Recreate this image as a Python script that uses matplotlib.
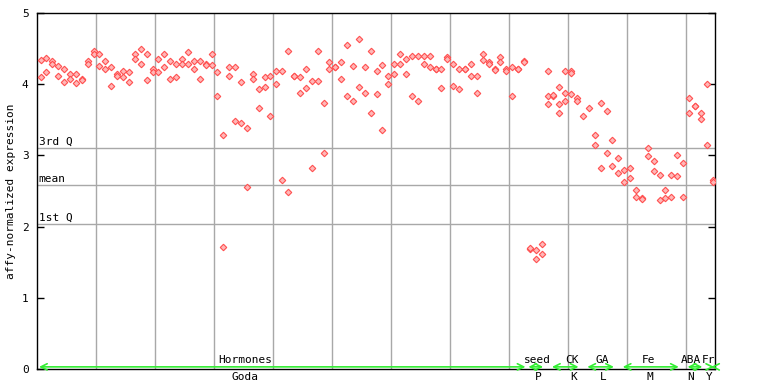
import matplotlib
matplotlib.use("Agg")
import matplotlib.pyplot as plt

# expression values per sample (index 0..114)
SAMPLES = [
    [4.34, 4.10], [4.37, 4.17], [4.33, 4.28], [4.25, 4.11], [4.22, 4.03],
    [4.15, 4.07], [4.15, 4.01], [4.08, 4.06], [4.32, 4.29], [4.46, 4.43],
    [4.43, 4.25], [4.33, 4.21], [4.24, 3.98], [4.15, 4.12], [4.18, 4.10],
    [4.17, 4.03], [4.42, 4.35], [4.50, 4.28], [4.42, 4.06], [4.22, 4.17],
    [4.35, 4.17], [4.43, 4.24], [4.32, 4.07], [4.28, 4.10], [4.35, 4.28],
    [4.45, 4.29], [4.33, 4.21], [4.33, 4.07], [4.29, 4.27], [4.43, 4.27],
    [4.17, 3.84], [3.28, 1.72], [4.24, 4.11], [4.24, 3.48], [4.03, 3.45],
    [3.39, 2.55], [4.15, 4.08], [3.93, 3.66], [4.10, 3.96], [4.12, 3.55],
    [4.18, 4.00], [4.19, 2.65], [4.46, 2.48], [4.12, 4.12], [4.10, 3.88],
    [4.21, 3.94], [4.05, 2.82], [4.46, 4.05], [3.74, 3.03], [4.31, 4.22],
    [4.24, 4.24], [4.31, 4.08], [4.55, 3.83], [4.25, 3.77], [4.63, 3.96],
    [4.24, 3.88], [4.46, 3.59], [4.19, 3.86], [4.27, 3.35], [4.12, 4.00],
    [4.28, 4.15], [4.43, 4.29], [4.35, 4.14], [4.39, 3.83], [4.39, 3.76],
    [4.40, 4.29], [4.40, 4.24], [4.22, 4.21], [4.22, 3.94], [4.38, 4.35],
    [4.28, 3.98], [4.22, 3.93], [4.22, 4.21], [4.29, 4.12], [4.11, 3.88],
    [4.43, 4.34], [4.31, 4.28], [4.21, 4.20], [4.38, 4.31], [4.22, 4.19],
    [4.24, 3.83], [4.21, 4.21], [4.32, 4.31], [1.69, 1.70], [1.67, 1.55],
    [1.75, 1.62], [4.18, 3.84, 3.72], [3.84, 3.85], [3.96, 3.72, 3.59],
    [4.18, 3.88, 3.77], [4.19, 4.16, 3.86], [3.80, 3.77], [3.55], [3.67],
    [3.28, 3.14], [3.73, 2.83], [3.63, 3.04], [3.21, 2.85], [2.97, 2.75],
    [2.79, 2.62], [2.82, 2.68], [2.51, 2.41], [2.40, 2.39], [3.10, 2.99],
    [2.92, 2.78], [2.73, 2.38], [2.52, 2.40], [2.73, 2.42], [3.00, 2.71],
    [2.90, 2.41], [3.81, 3.60], [3.70, 3.69], [3.59, 3.51], [4.00, 3.14],
    [2.65, 2.62],
]

# summary lines
STAT_LABELS = ["3rd Q", "mean", "1st Q"]
STAT_VALUES = [3.10, 2.58, 2.04]

# sample groups: name, sub-label, first and last sample index
GROUP_NAMES = ["Hormones", "seed", "CK", "GA", "Fe", "ABA", "Fr"]
GROUP_SUBS = ["Goda", "P", "K", "L", "M", "N", "Y"]
GROUP_FIRST = [0, 83, 87, 93, 99, 110, 114]
GROUP_LAST = [82, 85, 91, 97, 108, 112, 114]
# label centres as drawn in the reference (sample units)
LABEL_POS = [35.3, 84.8, 90.8, 95.8, 103.8, 110.9, 113.9]
SUB_POS = [35.3, 85.0, 91.1, 96.0, 104.0, 110.9, 114.0]

N = len(SAMPLES)
MONO = "DejaVu Sans Mono"
OFF = 0.6  # point offset inside each sample slot
XMAX = 115

fig = plt.figure(figsize=(7.68, 3.84), dpi=100)
ax = fig.add_axes([37 / 768, 1 - 369 / 384, 678 / 768, 356 / 384])
ax.set_xlim(0, XMAX)
ax.set_ylim(0, 5)

for k in range(10, XMAX, 10):
    ax.axvline(k, color="#a8a8a8", lw=1.0, zorder=1)
for lab, v in zip(STAT_LABELS, STAT_VALUES):
    ax.axhline(v, color="#a8a8a8", lw=1.0, zorder=1)
    ax.text(0.3, v + 0.02, lab, ha="left", va="bottom", fontsize=8,
            family=MONO, color="black")

xs, ys = [], []
for i, vals in enumerate(SAMPLES):
    for v in vals:
        xs.append(i + OFF)
        ys.append(v)
ax.plot(xs, ys, linestyle="none", marker="D", markersize=3.3,
        markerfacecolor="#ffb8b8", markeredgecolor="#ff4f4f",
        markeredgewidth=0.8, zorder=3)

# group arrows and labels along the bottom
for name, sub, a, b, lp, sp in zip(GROUP_NAMES, GROUP_SUBS, GROUP_FIRST,
                                   GROUP_LAST, LABEL_POS, SUB_POS):
    x0 = a + OFF - 0.25
    x1 = min(b + OFF + 0.25, XMAX - 0.05)
    ax.annotate("", xy=(x1, 0.006), xytext=(x0, 0.006),
                xycoords=("data", "axes fraction"),
                arrowprops=dict(arrowstyle="<->,head_length=0.5,head_width=0.25",
                                color="#33ee33", lw=1.2,
                                shrinkA=0, shrinkB=0, mutation_scale=9),
                annotation_clip=False, zorder=4)
    ax.text(lp, 0.012, name, ha="center", va="bottom", fontsize=8,
            family=MONO, transform=ax.get_xaxis_transform(), clip_on=False)
    ax.text(sp, -0.008, sub, ha="center", va="top", fontsize=8,
            family=MONO, transform=ax.get_xaxis_transform(), clip_on=False)

for s in ax.spines.values():
    s.set_color("black")
    s.set_linewidth(1.0)

ax.set_xticks([])
ax.set_yticks([0, 1, 2, 3, 4, 5])
ax.tick_params(axis="y", direction="in", length=5, width=1, right=True,
               labelright=False, labelsize=8, pad=6)
for t in ax.get_yticklabels():
    t.set_family(MONO)
ax.set_ylabel("affy-normalized expression", fontsize=8, family=MONO,
              labelpad=4)

fig.savefig("out.png", dpi=100)
